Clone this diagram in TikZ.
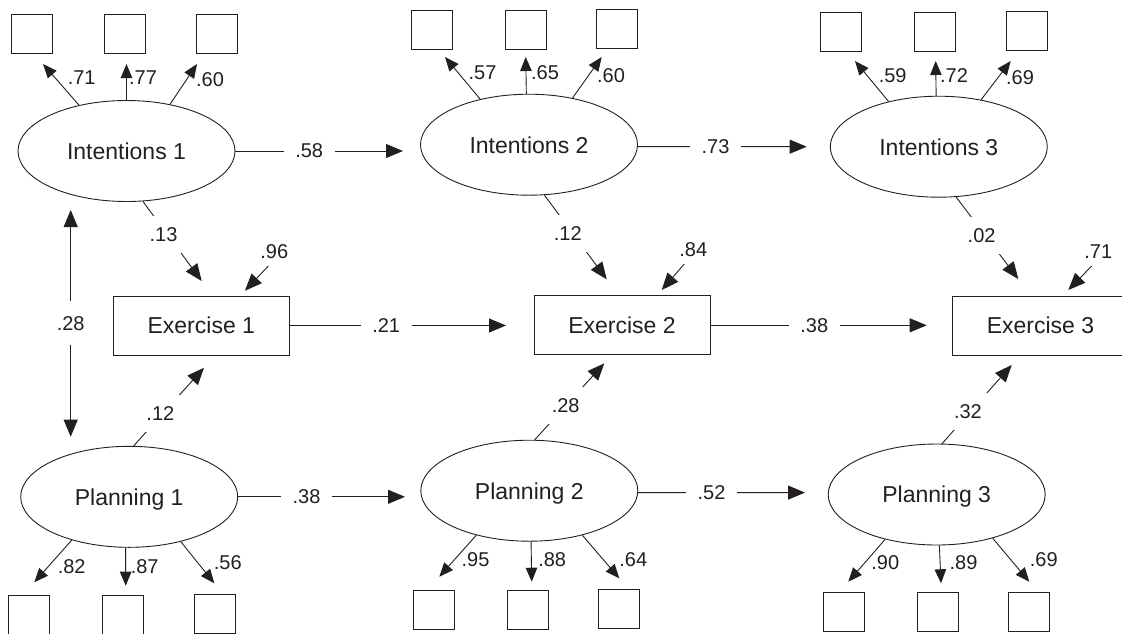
\documentclass[tikz,border=0pt]{standalone}
\usepackage{fontspec}
\setmainfont{Liberation Sans}
\usetikzlibrary{shapes.geometric,arrows.meta}
\definecolor{ink}{RGB}{35,31,32}
\begin{document}
\begin{tikzpicture}[x=1pt,y=-1pt,color=ink,line width=0.9pt,
  latent/.style={ellipse,draw,minimum width=217pt,minimum height=101pt,inner sep=0pt,
    font=\fontsize{23}{27}\selectfont,text depth=0pt},
  observed/.style={rectangle,draw,minimum width=176pt,minimum height=59pt,inner sep=0pt,
    font=\fontsize{23}{27}\selectfont,text depth=0pt},
  indicator/.style={rectangle,draw,minimum width=41pt,minimum height=39pt,inner sep=0pt},
  link/.style={-{Triangle[length=17pt,width=14pt]}},
  load/.style={-{Triangle[length=14pt,width=11.5pt]}},
  coef/.style={font=\fontsize{20}{24}\selectfont,inner sep=0pt,text depth=0pt},
  gapcoef/.style={coef,fill=white,inner sep=11.5pt}]

\useasboundingbox (0,0) rectangle (1122,633);

% latent factors
\node[latent] (i1) at (126.5,151) {Intentions 1};
\node[latent] (i2) at (529,144.7) {Intentions 2};
\node[latent] (i3) at (938.8,146.7) {Intentions 3};
\node[latent] (p1) at (129.2,496.8) {Planning 1};
\node[latent] (p2) at (529.3,490.7) {Planning 2};
\node[latent] (p3) at (936.7,494.5) {Planning 3};

% observed outcome
\node[observed] (e1) at (201.3,325.5) {Exercise 1};
\node[observed] (e2) at (622,325.3) {Exercise 2};
\node[observed] (e3) at (1040.5,325.5) {Exercise 3};

% indicator boxes
\node[indicator] (i1a) at (31.5,33.5) {};
\node[indicator] (i1b) at (125,33.5) {};
\node[indicator] (i1c) at (217,33.5) {};
\node[indicator] (i2a) at (432,29.7) {};
\node[indicator] (i2b) at (525.5,29.7) {};
\node[indicator] (i2c) at (617,29) {};
\node[indicator] (i3a) at (841,32) {};
\node[indicator] (i3b) at (935,32) {};
\node[indicator] (i3c) at (1026.7,31.2) {};
\node[indicator] (p1a) at (29.2,615) {};
\node[indicator] (p1b) at (122.8,615) {};
\node[indicator] (p1c) at (214.7,614) {};
\node[indicator] (p2a) at (433.8,610) {};
\node[indicator] (p2b) at (527.8,610) {};
\node[indicator] (p2c) at (618.8,609.3) {};
\node[indicator] (p3a) at (843.7,612.2) {};
\node[indicator] (p3b) at (937.5,612.2) {};
\node[indicator] (p3c) at (1028.8,611.7) {};

% loading arrow ends
\coordinate (i1at) at (43,64);
\coordinate (i1bt) at (126.5,64);
\coordinate (i1ct) at (197,64);
\coordinate (i2at) at (445,57);
\coordinate (i2bt) at (525.7,57);
\coordinate (i2ct) at (601.7,57);
\coordinate (i3at) at (855,61);
\coordinate (i3bt) at (935.7,61);
\coordinate (i3ct) at (1010.7,61);
\coordinate (p1at) at (34.3,582.3);
\coordinate (p1bt) at (125.7,585.7);
\coordinate (p1ct) at (214.3,583.3);
\coordinate (p2at) at (439.3,576.7);
\coordinate (p2bt) at (531.7,581.7);
\coordinate (p2ct) at (619.3,578.3);
\coordinate (p3at) at (848.3,581.7);
\coordinate (p3bt) at (941,583.3);
\coordinate (p3ct) at (1029.3,581.7);

% factor loadings
\draw[load] (i1.136.5) -- (i1at);
\draw[load] (i1.90) -- (i1bt);
\draw[load] (i1.47.1) -- (i1ct);
\draw[load] (i2.137.6) -- (i2at);
\draw[load] (i2.93.7) -- (i2bt);
\draw[load] (i2.47.6) -- (i2ct);
\draw[load] (i3.138.2) -- (i3at);
\draw[load] (i3.93.5) -- (i3bt);
\draw[load] (i3.48.3) -- (i3ct);
\draw[load] (p1.217.6) -- (p1at);
\draw[load] (p1.266.2) -- (p1bt);
\draw[load] (p1.319.2) -- (p1ct);
\draw[load] (p2.220.8) -- (p2at);
\draw[load] (p2.272.7) -- (p2bt);
\draw[load] (p2.320.6) -- (p2ct);
\draw[load] (p3.221.9) -- (p3at);
\draw[load] (p3.273) -- (p3bt);
\draw[load] (p3.322.7) -- (p3ct);

\node[coef] (li1a) at (81.7,78) {.71};
\node[coef] (li1b) at (143,78) {.77};
\node[coef] (li1c) at (210,80) {.60};
\node[coef] (li2a) at (482.5,73) {.57};
\node[coef] (li2b) at (545,73) {.65};
\node[coef] (li2c) at (611,76) {.60};
\node[coef] (li3a) at (892.7,76) {.59};
\node[coef] (li3b) at (954,76) {.72};
\node[coef] (li3c) at (1020,78) {.69};
\node[coef] (lp1a) at (71.7,566.7) {.82};
\node[coef] (lp1b) at (144.7,566.7) {.87};
\node[coef] (lp1c) at (227.8,562.7) {.56};
\node[coef] (lp2a) at (475.5,560) {.95};
\node[coef] (lp2b) at (552.2,560) {.88};
\node[coef] (lp2c) at (633.3,559.3) {.64};
\node[coef] (lp3a) at (885.3,562.7) {.90};
\node[coef] (lp3b) at (963.5,562.7) {.89};
\node[coef] (lp3c) at (1043.8,560) {.69};

% autoregressive paths
\coordinate (i12) at (403,151);
\coordinate (i23) at (806.7,146.7);
\coordinate (p12) at (405,496.8);
\coordinate (p23) at (805,492.6);
\coordinate (e12) at (506,325.5);
\coordinate (e23) at (926.7,325.3);
\draw[link] (i1.east) -- node[gapcoef,pos=0.44] (l58) {.58} (i12);
\draw[link] (i2.-1) -- node[gapcoef,pos=0.46] (l73) {.73} (i23);
\draw[link] (p1.east) -- node[gapcoef,pos=0.41] (l38p) {.38} (p12);
\draw[link] (p2.-1) -- node[gapcoef,pos=0.44] (l52) {.52} (p23);
\draw[link] (e1.east) -- node[gapcoef,pos=0.446] (l21) {.21} (e12);
\draw[link] (e2.east) -- node[gapcoef,pos=0.48] (l38e) {.38} (e23);

% cross-lagged paths to exercise
\coordinate (ie1) at (201.7,281);
\coordinate (ie2) at (606.7,279.3);
\coordinate (ie3) at (1018.3,279);
\coordinate (pe1) at (204,367.7);
\coordinate (pe2) at (604.3,363.3);
\coordinate (pe3) at (1011.7,365);
\draw[link] (i1.288) -- node[gapcoef,pos=0.42,xshift=-4pt] (l13) {.13} (ie1);
\draw[link] (i2.287.8) -- node[gapcoef,pos=0.456,xshift=-5pt] (l12i) {.12} (ie2);
\draw[link] (i3.289.7) -- node[gapcoef,pos=0.474,xshift=-4pt] (l02) {.02} (ie3);
\draw[link] (p1.85.7) -- node[gapcoef,pos=0.418,xshift=-2.7pt] (l12p) {.12} (pe1);
\draw[link] (p2.84.5) -- node[gapcoef,pos=0.446] (l28p) {.28} (pe2);
\draw[link] (p3.84.3) -- node[gapcoef,pos=0.409,xshift=-2.6pt] (l32) {.32} (pe3);

% residual terms
\coordinate (r1s) at (268.3,266);
\coordinate (r1e) at (245,290.7);
\coordinate (r2s) at (684.3,264);
\coordinate (r2e) at (661.7,290);
\coordinate (r3s) at (1091.7,266);
\coordinate (r3e) at (1068.3,290);
\draw[link] (r1s) -- (r1e);
\draw[link] (r2s) -- (r2e);
\draw[link] (r3s) -- (r3e);
\node[coef] (lr1) at (274.3,251.7) {.96};
\node[coef] (lr2) at (693.3,250) {.84};
\node[coef] (lr3) at (1098.3,251.7) {.71};

% correlation between the first-wave factors
\coordinate (c1) at (70.7,210);
\coordinate (c2) at (70.7,436.7);
\draw[{Triangle[length=17pt,width=14pt]}-{Triangle[length=17pt,width=14pt]}]
  (c1) -- node[gapcoef,inner ysep=15pt] (l28c) {.28} (c2);

\end{tikzpicture}
\end{document}
